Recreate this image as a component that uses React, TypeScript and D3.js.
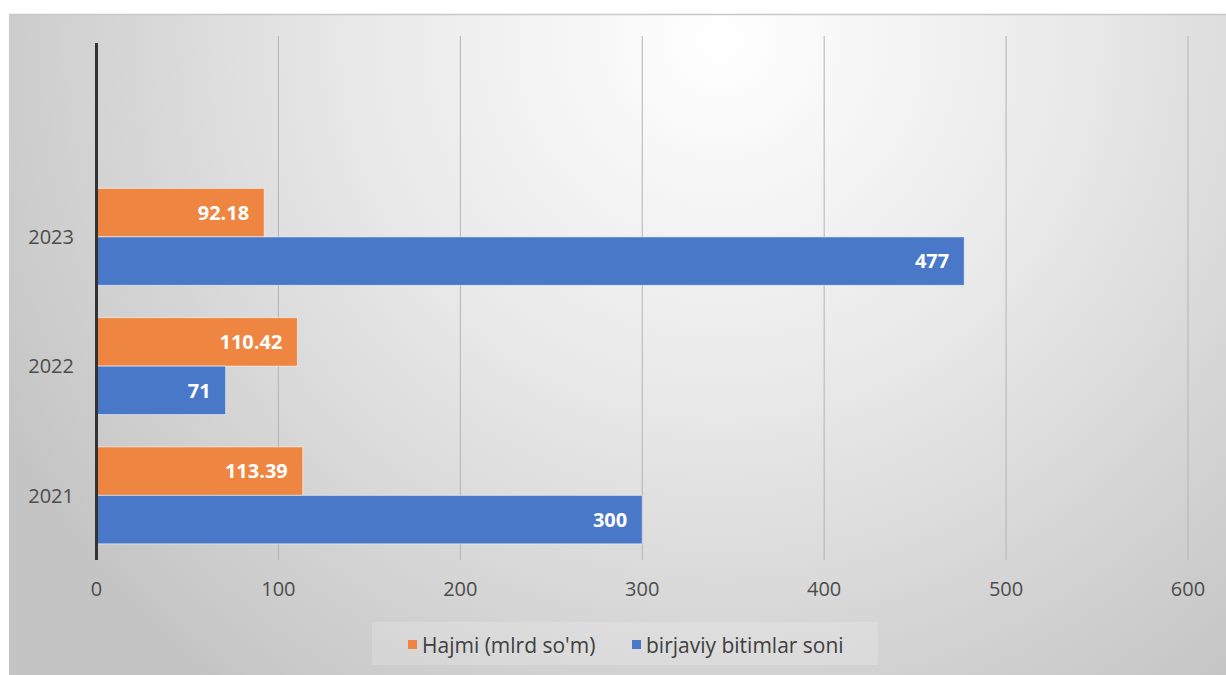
import React, { useEffect, useRef } from 'react';
import * as d3 from 'd3';

// years shown on the vertical axis (bottom to top); one empty slot sits above 2023
const categories = ['2021', '2022', '2023'];
const hajmi = [113.39, 110.42, 92.18];
const bitimlar = [300, 71, 477];
const xTicks = [0, 100, 200, 300, 400, 500, 600];
const seriesNames = ["Hajmi (mlrd so'm)", 'birjaviy bitimlar soni'];
const seriesColors = ['#ee8540', '#4a78c9'];

const App = () => {
  const svgRef = useRef(null);

  useEffect(() => {
    document.body.style.margin = '0';
    const width = 1226;
    const height = 675;
    const font = '"Open Sans", "Noto Sans", sans-serif';

    const svg = d3.select(svgRef.current)
      .attr('width', width)
      .attr('height', height);
    svg.selectAll('*').remove();

    // background gradient like the Excel chart area
    const defs = svg.append('defs');
    const grad = defs.append('radialGradient')
      .attr('id', 'bg')
      .attr('gradientUnits', 'userSpaceOnUse')
      .attr('cx', 720).attr('cy', 40).attr('r', 820);
    grad.append('stop').attr('offset', '0%').attr('stop-color', '#ffffff');
    grad.append('stop').attr('offset', '45%').attr('stop-color', '#e8e8e8');
    grad.append('stop').attr('offset', '100%').attr('stop-color', '#c4c4c4');

    svg.append('rect').attr('width', width).attr('height', height).attr('fill', '#ffffff');
    svg.append('rect')
      .attr('x', 9).attr('y', 14)
      .attr('width', width - 9).attr('height', height - 14)
      .attr('fill', 'url(#bg)');
    svg.append('line')
      .attr('x1', 9).attr('x2', width).attr('y1', 14.5).attr('y2', 14.5)
      .attr('stroke', '#c8c8c8').attr('stroke-width', 1.5);

    const x = d3.scaleLinear().domain([0, 600]).range([96.5, 1188]);
    const y = d3.scaleBand()
      .domain([...categories, ''])
      .range([560, 43]);
    const groupW = y.bandwidth() * 0.75;
    const sub = d3.scaleBand()
      .domain(['hajmi', 'bitimlar'])
      .range([(y.bandwidth() - groupW) / 2, (y.bandwidth() + groupW) / 2]);

    // gridlines
    svg.append('g')
      .selectAll('line')
      .data(xTicks.slice(1))
      .enter()
      .append('line')
      .attr('x1', (d) => x(d)).attr('x2', (d) => x(d))
      .attr('y1', 36).attr('y2', 560)
      .attr('stroke', '#b4b4b4')
      .attr('stroke-width', 1);

    // x tick labels
    svg.append('g')
      .selectAll('text')
      .data(xTicks)
      .enter()
      .append('text')
      .attr('x', (d) => x(d))
      .attr('y', 596)
      .attr('text-anchor', 'middle')
      .attr('font-family', font)
      .attr('font-size', 20)
      .attr('fill', '#4d4d4d')
      .text((d) => d);

    // bars
    const rows = categories.map((c, i) => ({ cat: c, hajmi: hajmi[i], bitimlar: bitimlar[i] }));
    const keys = ['hajmi', 'bitimlar'];
    const g = svg.append('g');
    rows.forEach((r) => {
      keys.forEach((k, ki) => {
        const y0 = y(r.cat) + sub(k);
        g.append('rect')
          .attr('x', x(0))
          .attr('y', y0)
          .attr('width', x(r[k]) - x(0))
          .attr('height', sub.bandwidth())
          .attr('fill', seriesColors[ki])
          .attr('stroke', 'rgba(255,255,255,0.55)')
          .attr('stroke-width', 1);
        g.append('text')
          .attr('x', x(r[k]) - 15)
          .attr('y', y0 + sub.bandwidth() / 2)
          .attr('dy', '0.36em')
          .attr('text-anchor', 'end')
          .attr('font-family', font)
          .attr('font-size', 20)
          .attr('font-weight', 700)
          .attr('fill', '#ffffff')
          .text(r[k]);
      });
    });

    // y axis line and labels
    svg.append('line')
      .attr('x1', x(0)).attr('x2', x(0))
      .attr('y1', 43).attr('y2', 560)
      .attr('stroke', '#333333')
      .attr('stroke-width', 3);
    svg.append('g')
      .selectAll('text')
      .data(categories)
      .enter()
      .append('text')
      .attr('x', 74)
      .attr('y', (d) => y(d) + y.bandwidth() / 2)
      .attr('dy', '0.36em')
      .attr('text-anchor', 'end')
      .attr('font-family', font)
      .attr('font-size', 20)
      .attr('fill', '#4d4d4d')
      .text((d) => d);

    // legend
    svg.append('rect')
      .attr('x', 372).attr('y', 622)
      .attr('width', 506).attr('height', 43)
      .attr('fill', 'rgba(255,255,255,0.18)');
    const legendX = [408, 632];
    seriesNames.forEach((name, i) => {
      svg.append('rect')
        .attr('x', legendX[i]).attr('y', 640)
        .attr('width', 9).attr('height', 9)
        .attr('fill', seriesColors[i]);
      svg.append('text')
        .attr('x', legendX[i] + 14)
        .attr('y', 645)
        .attr('dy', '0.36em')
        .attr('font-family', font)
        .attr('font-size', 21)
        .attr('fill', '#404040')
        .text(name);
    });
  }, []);

  return <svg ref={svgRef}></svg>;
};

export default App;
